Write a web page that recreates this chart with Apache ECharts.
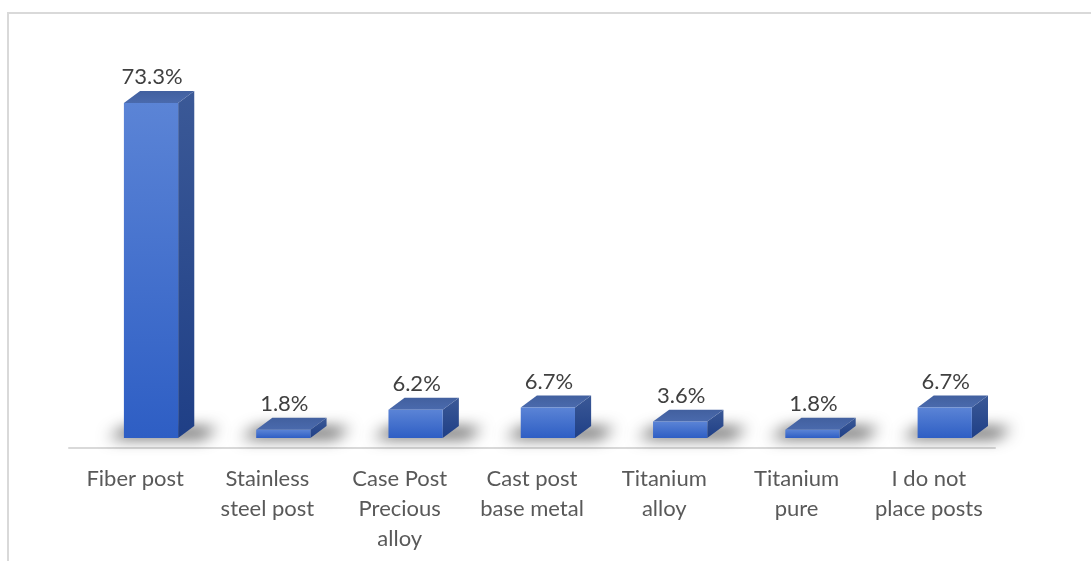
<!DOCTYPE html>
<html>
<head>
<meta charset="utf-8">
<script src="https://cdn.jsdelivr.net/npm/echarts@6/dist/echarts.min.js"></script>
<style>
  html, body { margin: 0; padding: 0; background: #ffffff; }
  #chart { width: 1091px; height: 561px; }
</style>
</head>
<body>
<div id="chart"></div>
<script>
// Post types and the share of respondents choosing each one (%)
const categories = [
  'Fiber post',
  'Stainless\nsteel post',
  'Case Post\nPrecious\nalloy',
  'Cast post\nbase metal',
  'Titanium\nalloy',
  'Titanium\npure',
  'I do not\nplace posts'
];
const shares = [73.3, 1.8, 6.2, 6.7, 3.6, 1.8, 6.7];

const FONT = 'Lato, "Open Sans", sans-serif';
const chart = echarts.init(document.getElementById('chart'), null, { renderer: 'canvas' });

// Draws one pseudo-3D box: floor shadow, front, top and right faces, value label
function renderBox(params, api) {
  const idx = api.value(0);
  const val = api.value(1);
  const band = api.size([1, 0])[0];
  const base = api.coord([idx, 0]);
  const top = api.coord([idx, val]);
  const frontW = band * 0.41;
  const shift = band * 0.12;
  const dx = band * 0.122;
  const dy = band * 0.09;
  const x0 = base[0] + shift - frontW / 2;
  const x1 = x0 + frontW;
  const y0 = base[1];
  const y1 = top[1];
  const far = 3000;

  // soft floor shadow: the shape is drawn off-canvas, only its blurred shadow lands here
  const shadowPts = [
    [x0 - 16, y0], [x1 + dx + 8, y0],
    [x1 + dx + 24, y0 - dy + 2], [x0 + 2, y0 - dy + 2]
  ].map(p => [p[0] - far, p[1]]);

  return {
    type: 'group',
    children: [
      {
        type: 'polygon',
        z2: 1,
        shape: { points: shadowPts },
        style: {
          fill: '#000',
          shadowColor: 'rgba(0,0,0,0.72)',
          shadowBlur: 15,
          shadowOffsetX: far,
          shadowOffsetY: 0
        },
        silent: true
      },
      {
        type: 'polygon',
        z2: 10,
        shape: { points: [[x1, y1], [x1 + dx, y1 - dy], [x1 + dx, y0 - dy], [x1, y0]] },
        style: {
          fill: new echarts.graphic.LinearGradient(0, 0, 0, 1, [
            { offset: 0, color: '#3b5997' },
            { offset: 1, color: '#1f3f86' }
          ])
        }
      },
      {
        type: 'polygon',
        z2: 10,
        shape: { points: [[x0, y1], [x1, y1], [x1 + dx, y1 - dy], [x0 + dx, y1 - dy]] },
        style: {
          fill: new echarts.graphic.LinearGradient(0, 1, 0, 0, [
            { offset: 0, color: '#4a6aad' },
            { offset: 1, color: '#42609f' }
          ])
        }
      },
      {
        type: 'rect',
        z2: 11,
        shape: { x: x0, y: y1, width: frontW, height: y0 - y1 },
        style: {
          fill: new echarts.graphic.LinearGradient(0, 0, 0, 1, [
            { offset: 0, color: '#5b84d6' },
            { offset: 1, color: '#2e5ec4' }
          ])
        }
      },
      {
        type: 'text',
        z2: 12,
        style: {
          text: val + '%',
          x: (x0 + x1) / 2 + 1,
          y: y1 - dy - 14,
          align: 'center',
          verticalAlign: 'middle',
          fill: '#404040',
          font: '22px ' + FONT
        }
      }
    ]
  };
}

chart.setOption({
  backgroundColor: '#ffffff',
  animation: false,
  graphic: [
    {
      type: 'rect',
      shape: { x: 8, y: 13, width: 1200, height: 700 },
      style: { fill: 'transparent', stroke: '#d9d9d9', lineWidth: 2 },
      silent: true
    }
  ],
  grid: { left: 69, right: 96, top: 72.4, bottom: 123 },
  xAxis: {
    type: 'category',
    data: categories,
    offset: 10,
    axisTick: { show: false },
    axisLine: { show: true, onZero: false, lineStyle: { color: '#d9d9d9', width: 2 } },
    axisLabel: {
      interval: 0,
      margin: 16,
      color: '#595959',
      fontFamily: FONT,
      fontSize: 22,
      lineHeight: 30
    }
  },
  yAxis: {
    type: 'value',
    min: 0,
    max: 80,
    show: false,
    splitLine: { show: false }
  },
  series: [
    {
      type: 'custom',
      renderItem: renderBox,
      encode: { x: 0, y: 1 },
      data: shares.map((v, i) => [i, v]),
      clip: false
    }
  ]
});
</script>
</body>
</html>
